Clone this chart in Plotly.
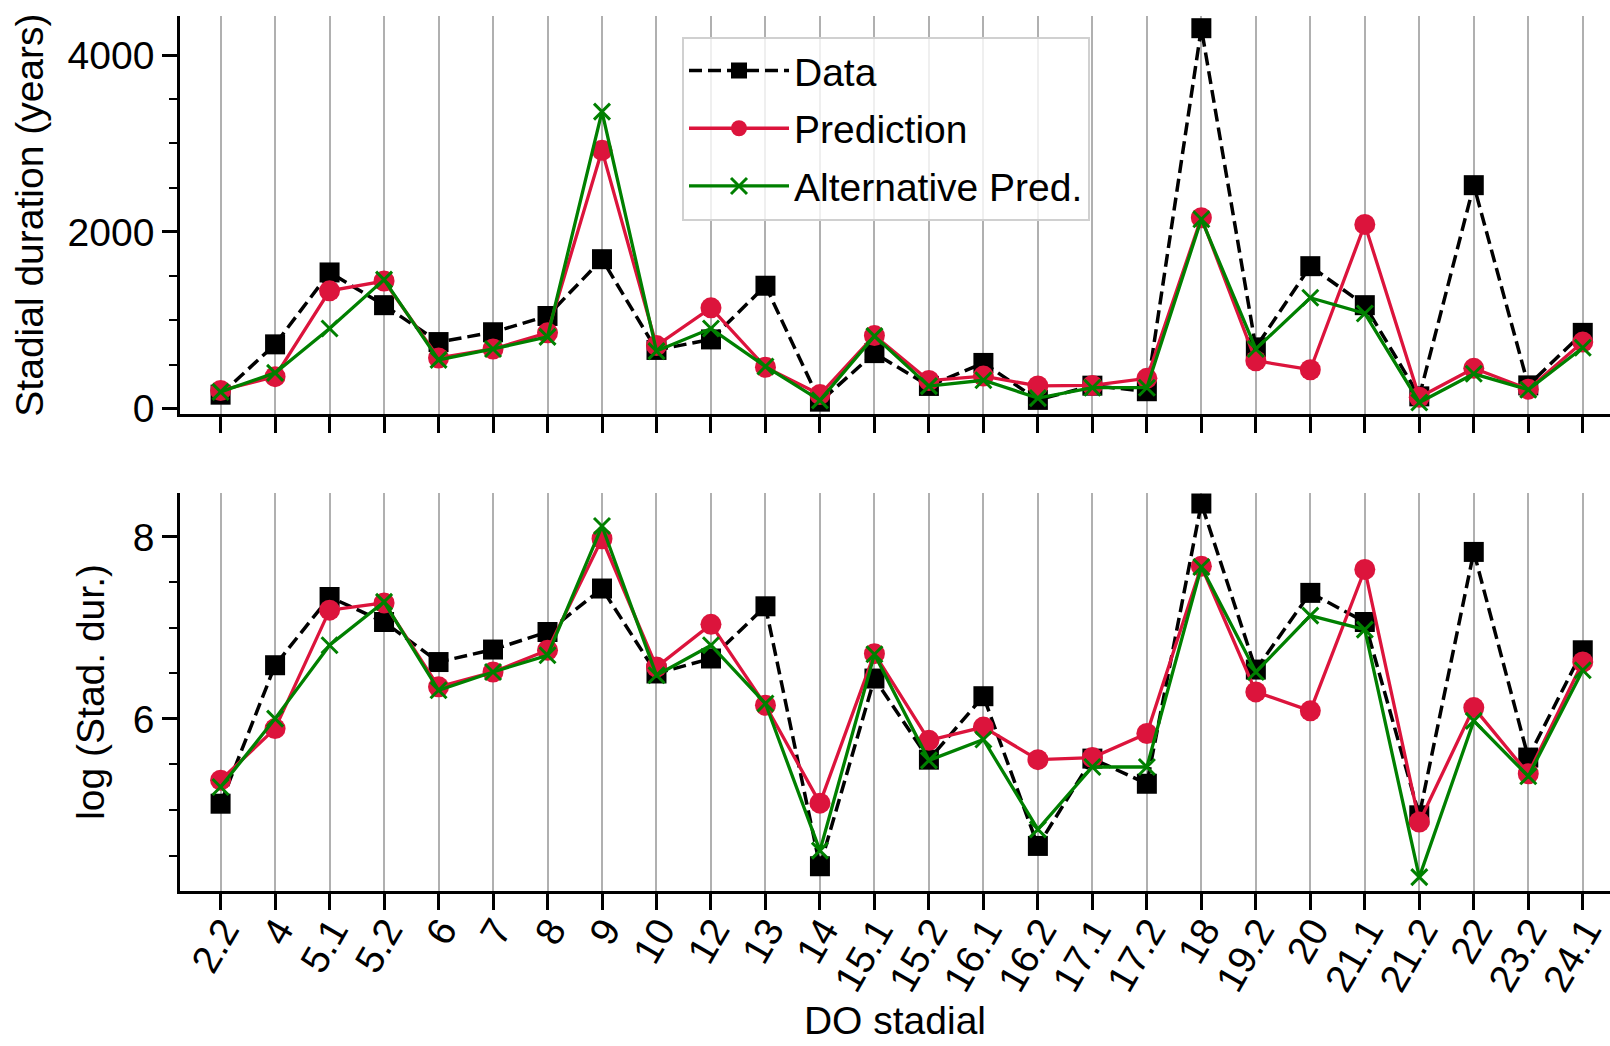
import numpy as np
import plotly.graph_objects as go

# DO stadials and their durations (years)
stadials = ["2.2", "4", "5.1", "5.2", "6", "7", "8", "9", "10", "12", "13", "14",
            "15.1", "15.2", "16.1", "16.2", "17.1", "17.2", "18", "19.2", "20",
            "21.1", "21.2", "22", "23.2", "24.1"]

data_years = [159, 728, 1541, 1171, 754, 865, 1049, 1691, 665, 784, 1391, 80,
              629, 258, 518, 100, 261, 198, 4303, 694, 1612, 1171, 140, 2528, 264, 858]

pred_years = [206, 363, 1333, 1444, 574, 676, 858, 2922, 714, 1141, 469, 160,
              827, 319, 369, 258, 264, 344, 2160, 543, 441, 2084, 130, 457, 221, 754]

alt_years = [191, 405, 907, 1460, 553, 676, 812, 3360, 652, 907, 478, 95,
             821, 256, 322, 120, 238, 238, 2143, 676, 1255, 1077, 71, 395, 215, 689]

FONT = "Liberation Sans, Arial, Helvetica, sans-serif"
FS = 39
W, H = 1610, 1046
M_L, M_R, M_T, M_B = 180, 0, 16, 155.3
PLOT_H = H - M_T - M_B

def py(px):
    """Convert a pixel row (from top of figure) into paper y."""
    return (H - M_B - px) / PLOT_H

series = [
    ("Data", data_years,
     dict(color="black", width=3.5, dash="13px,6px"),
     dict(symbol="square", size=20, color="black")),
    ("Prediction", pred_years,
     dict(color="#DC143C", width=3.3),
     dict(symbol="circle", size=21, color="#DC143C")),
    ("Alternative Pred.", alt_years,
     dict(color="#008000", width=3.3),
     dict(symbol="x-thin", size=16, color="#008000",
          line=dict(width=3, color="#008000"))),
]

fig = go.Figure()
for name, years, line, marker in series:
    yrs = np.asarray(years, dtype=float)
    fig.add_trace(go.Scatter(
        x=stadials, y=yrs, name=name, mode="lines+markers",
        line=line, marker=marker, xaxis="x", yaxis="y",
        legendgroup=name, cliponaxis=False))
    fig.add_trace(go.Scatter(
        x=stadials, y=np.log(yrs), name=name, mode="lines+markers",
        line=line, marker=marker, xaxis="x2", yaxis="y2",
        legendgroup=name, showlegend=False, cliponaxis=False))

axis_common = dict(
    showline=True, linecolor="black", linewidth=2.7,
    ticks="outside", tickcolor="black", tickwidth=3,
    zeroline=False, automargin=False,
    tickfont=dict(family=FONT, size=FS, color="black"),
)

x_common = dict(
    axis_common, type="category", range=[-0.745, 25.5],
    showgrid=True, gridcolor="#b0b0b0", gridwidth=2, ticklen=16,
    categoryorder="array", categoryarray=stadials,
)

fig.update_layout(
    width=W, height=H,
    margin=dict(l=M_L, r=M_R, t=M_T, b=M_B),
    paper_bgcolor="white", plot_bgcolor="white",
    font=dict(family=FONT, size=FS, color="black"),
    xaxis=dict(x_common, domain=[0, 1], anchor="y", showticklabels=False),
    yaxis=dict(
        axis_common, domain=[py(414), 1], anchor="x",
        range=[-61, 4441], tick0=0, dtick=2000, ticklen=15, showgrid=False,
        minor=dict(tick0=0, dtick=500, ticks="outside", ticklen=8,
                   tickwidth=2, tickcolor="black", showgrid=False),
        title=dict(text="Stadial duration (years)",
                   font=dict(family=FONT, size=FS), standoff=12),
    ),
    xaxis2=dict(
        x_common, domain=[0, 1], anchor="y2", tickangle=-60,
        ticklabelstandoff=-18, ticklabelshift=3,
        title=dict(text="DO stadial", font=dict(family=FONT, size=FS),
                   standoff=10),
    ),
    yaxis2=dict(
        axis_common, domain=[0, py(492.7)], anchor="x2",
        range=[4.110, 8.484], tick0=0, dtick=2, ticklen=15, showgrid=False,
        minor=dict(tick0=0, dtick=0.5, ticks="outside", ticklen=8,
                   tickwidth=2, tickcolor="black", showgrid=False),
        title=dict(text="log (Stad. dur.)",
                   font=dict(family=FONT, size=FS), standoff=16),
    ),
    legend=dict(
        x=(682 - M_L) / (W - M_L - M_R), y=py(36.7),
        xanchor="left", yanchor="top",
        bgcolor="rgba(255,255,255,0.8)", bordercolor="#d0d0d0", borderwidth=2,
        font=dict(family=FONT, size=FS, color="black"),
        itemwidth=100, tracegroupgap=4,
        entrywidth=425, entrywidthmode="pixels",
    ),
    showlegend=True,
)

fig.write_html("out.html")
